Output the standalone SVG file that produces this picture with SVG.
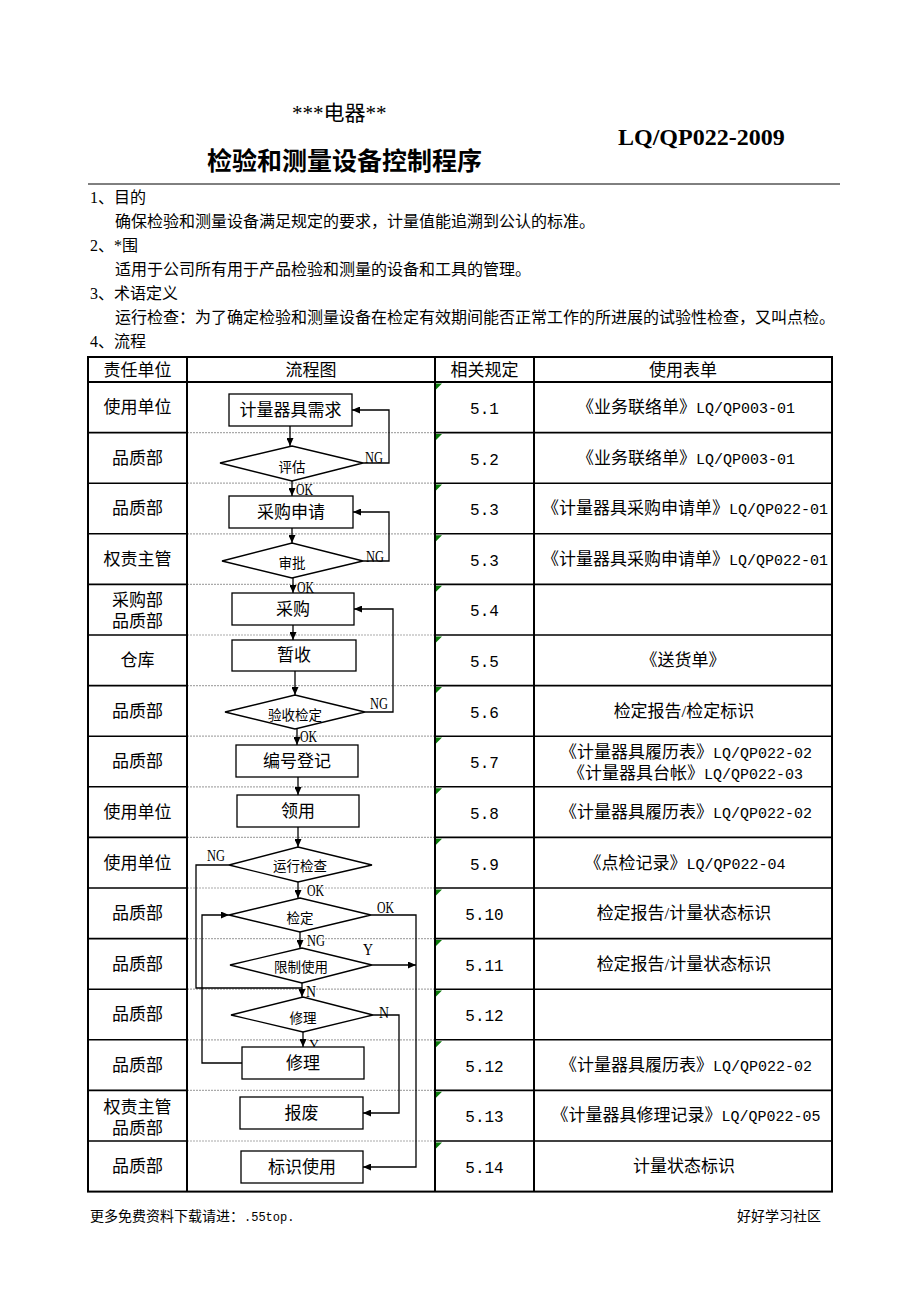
<svg xmlns="http://www.w3.org/2000/svg" width="920" height="1302" viewBox="0 0 920 1302">
<style>
.t{font-family:'Liberation Serif','Noto Sans CJK SC',serif;fill:#000}
.m{font-family:'Liberation Mono','Noto Sans CJK SC',monospace;font-size:15px}
.c{font-size:17px;text-anchor:middle}
.sec{font-size:16px}
.lbl{font-family:'Liberation Serif',serif;font-size:17px;fill:#000}
.dl{font-size:13.5px;text-anchor:middle}
.nd rect,.nd polygon{fill:#fff;stroke:#000;stroke-width:1.3}
.cn{fill:none;stroke:#000;stroke-width:1.3}
.bk{stroke:#000;stroke-width:1.6}
.gr{stroke:#aaa;stroke-width:1.2;stroke-dasharray:2 1}
.tri{fill:#0a7a0a}
</style>
<defs>
<marker id="ah" markerUnits="userSpaceOnUse" markerWidth="8" markerHeight="7" refX="8" refY="3.5" orient="auto">
<path d="M0,0 L8,3.5 L0,7 z" fill="#000"/>
</marker>
</defs>
<rect width="920" height="1302" fill="#fff"/>

<!-- header -->
<text class="t" x="292" y="120" font-size="21">***电器**</text>
<text class="t" x="207" y="170" font-size="25" font-weight="bold">检验和测量设备控制程序</text>
<text x="618" y="145" font-family="'Liberation Serif',serif" font-size="24" font-weight="bold">LQ/QP022-2009</text>
<line x1="88" y1="184" x2="840" y2="184" stroke="#000" stroke-width="1"/>

<text class="t sec" x="90" y="203">1、目的</text>
<text class="t sec" x="115" y="227">确保检验和测量设备满足规定的要求，计量值能追溯到公认的标准。</text>
<text class="t sec" x="90" y="251">2、*围</text>
<text class="t sec" x="115" y="275">适用于公司所有用于产品检验和测量的设备和工具的管理。</text>
<text class="t sec" x="90" y="299">3、术语定义</text>
<text class="t sec" x="115" y="323">运行检查：为了确定检验和测量设备在检定有效期间能否正常工作的所进展的试验性检查，又叫点检。</text>
<text class="t sec" x="90" y="347">4、流程</text>

<!-- table grid -->
<g id="table">
<g class="gr">
<line x1="187" y1="432.6" x2="435" y2="432.6"/><line x1="187" y1="483.2" x2="435" y2="483.2"/>
<line x1="187" y1="533.8" x2="435" y2="533.8"/><line x1="187" y1="584.4" x2="435" y2="584.4"/>
<line x1="187" y1="635" x2="435" y2="635"/><line x1="187" y1="685.6" x2="435" y2="685.6"/>
<line x1="187" y1="736.2" x2="435" y2="736.2"/><line x1="187" y1="786.8" x2="435" y2="786.8"/>
<line x1="187" y1="837.4" x2="435" y2="837.4"/><line x1="187" y1="888" x2="435" y2="888"/>
<line x1="187" y1="938.6" x2="435" y2="938.6"/><line x1="187" y1="989.2" x2="435" y2="989.2"/>
<line x1="187" y1="1039.8" x2="435" y2="1039.8"/><line x1="187" y1="1090.4" x2="435" y2="1090.4"/>
<line x1="187" y1="1141" x2="435" y2="1141"/>
</g>
<g class="bk">
<line x1="88" y1="432.6" x2="187" y2="432.6"/><line x1="435" y1="432.6" x2="832" y2="432.6"/>
<line x1="88" y1="483.2" x2="187" y2="483.2"/><line x1="435" y1="483.2" x2="832" y2="483.2"/>
<line x1="88" y1="533.8" x2="187" y2="533.8"/><line x1="435" y1="533.8" x2="832" y2="533.8"/>
<line x1="88" y1="584.4" x2="187" y2="584.4"/><line x1="435" y1="584.4" x2="832" y2="584.4"/>
<line x1="88" y1="635" x2="187" y2="635"/><line x1="435" y1="635" x2="832" y2="635"/>
<line x1="88" y1="685.6" x2="187" y2="685.6"/><line x1="435" y1="685.6" x2="832" y2="685.6"/>
<line x1="88" y1="736.2" x2="187" y2="736.2"/><line x1="435" y1="736.2" x2="832" y2="736.2"/>
<line x1="88" y1="786.8" x2="187" y2="786.8"/><line x1="435" y1="786.8" x2="832" y2="786.8"/>
<line x1="88" y1="837.4" x2="187" y2="837.4"/><line x1="435" y1="837.4" x2="832" y2="837.4"/>
<line x1="88" y1="888" x2="187" y2="888"/><line x1="435" y1="888" x2="832" y2="888"/>
<line x1="88" y1="938.6" x2="187" y2="938.6"/><line x1="435" y1="938.6" x2="832" y2="938.6"/>
<line x1="88" y1="989.2" x2="187" y2="989.2"/><line x1="435" y1="989.2" x2="832" y2="989.2"/>
<line x1="88" y1="1039.8" x2="187" y2="1039.8"/><line x1="435" y1="1039.8" x2="832" y2="1039.8"/>
<line x1="88" y1="1090.4" x2="187" y2="1090.4"/><line x1="435" y1="1090.4" x2="832" y2="1090.4"/>
<line x1="88" y1="1141" x2="187" y2="1141"/><line x1="435" y1="1141" x2="832" y2="1141"/>
</g>
<g stroke="#000" stroke-width="2" fill="none">
<rect x="88" y="357" width="744" height="834.6"/>
<line x1="88" y1="382" x2="832" y2="382"/>
<line x1="187" y1="357" x2="187" y2="1191.6"/>
<line x1="435" y1="357" x2="435" y2="1191.6"/>
<line x1="534" y1="357" x2="534" y2="1191.6"/>
</g>
<g class="tri">
<polygon points="436,383.5 442,383.5 436,389.5"/><polygon points="436,434 442,434 436,440"/>
<polygon points="436,484.6 442,484.6 436,490.6"/><polygon points="436,535.2 442,535.2 436,541.2"/>
<polygon points="436,585.8 442,585.8 436,591.8"/><polygon points="436,636.4 442,636.4 436,642.4"/>
<polygon points="436,687 442,687 436,693"/><polygon points="436,737.6 442,737.6 436,743.6"/>
<polygon points="436,788.2 442,788.2 436,794.2"/><polygon points="436,838.8 442,838.8 436,844.8"/>
<polygon points="436,889.4 442,889.4 436,895.4"/><polygon points="436,940 442,940 436,946"/>
<polygon points="436,990.6 442,990.6 436,996.6"/><polygon points="436,1041.2 442,1041.2 436,1047.2"/>
<polygon points="436,1091.8 442,1091.8 436,1097.8"/><polygon points="436,1142.4 442,1142.4 436,1148.4"/>
</g>
</g>

<!-- headers -->
<g id="headers" class="t c">
<text x="137.5" y="376">责任单位</text>
<text x="311" y="376">流程图</text>
<text x="484.5" y="376">相关规定</text>
<text x="683" y="376">使用表单</text>
</g>

<!-- responsibility column -->
<g id="col-resp" class="t c">
<text x="137.5" y="413">使用单位</text>
<text x="137.5" y="464">品质部</text>
<text x="137.5" y="514">品质部</text>
<text x="137.5" y="565">权责主管</text>
<text x="137.5" y="606">采购部</text>
<text x="137.5" y="627">品质部</text>
<text x="137.5" y="666">仓库</text>
<text x="137.5" y="717">品质部</text>
<text x="137.5" y="767">品质部</text>
<text x="137.5" y="818">使用单位</text>
<text x="137.5" y="869">使用单位</text>
<text x="137.5" y="919">品质部</text>
<text x="137.5" y="970">品质部</text>
<text x="137.5" y="1020">品质部</text>
<text x="137.5" y="1071">品质部</text>
<text x="137.5" y="1113">权责主管</text>
<text x="137.5" y="1134">品质部</text>
<text x="137.5" y="1172">品质部</text>
</g>

<!-- regulation column -->
<g id="col-reg" class="m" text-anchor="middle" font-size="16">
<text x="484.5" y="414" style="font-size:16px">5.1</text>
<text x="484.5" y="465" style="font-size:16px">5.2</text>
<text x="484.5" y="515" style="font-size:16px">5.3</text>
<text x="484.5" y="566" style="font-size:16px">5.3</text>
<text x="484.5" y="616" style="font-size:16px">5.4</text>
<text x="484.5" y="667" style="font-size:16px">5.5</text>
<text x="484.5" y="718" style="font-size:16px">5.6</text>
<text x="484.5" y="768" style="font-size:16px">5.7</text>
<text x="484.5" y="819" style="font-size:16px">5.8</text>
<text x="484.5" y="870" style="font-size:16px">5.9</text>
<text x="484.5" y="920" style="font-size:16px">5.10</text>
<text x="484.5" y="971" style="font-size:16px">5.11</text>
<text x="484.5" y="1021" style="font-size:16px">5.12</text>
<text x="484.5" y="1072" style="font-size:16px">5.12</text>
<text x="484.5" y="1122" style="font-size:16px">5.13</text>
<text x="484.5" y="1173" style="font-size:16px">5.14</text>
</g>

<!-- forms column -->
<g id="col-forms" class="t c">
<text x="686" y="413">《业务联络单》<tspan class="m">LQ/QP003-01</tspan></text>
<text x="686" y="464">《业务联络单》<tspan class="m">LQ/QP003-01</tspan></text>
<text x="685" y="514">《计量器具采购申请单》<tspan class="m">LQ/QP022-01</tspan></text>
<text x="685" y="565">《计量器具采购申请单》<tspan class="m">LQ/QP022-01</tspan></text>
<text x="683" y="666">《送货单》</text>
<text x="684" y="717">检定报告/检定标识</text>
<text x="686" y="758">《计量器具履历表》<tspan class="m">LQ/QP022-02</tspan></text>
<text x="685.5" y="779">《计量器具台帐》<tspan class="m">LQ/QP022-03</tspan></text>
<text x="686" y="818">《计量器具履历表》<tspan class="m">LQ/QP022-02</tspan></text>
<text x="685" y="869">《点检记录》<tspan class="m">LQ/QP022-04</tspan></text>
<text x="684" y="919">检定报告/计量状态标识</text>
<text x="684" y="970">检定报告/计量状态标识</text>
<text x="686" y="1071">《计量器具履历表》<tspan class="m">LQ/QP022-02</tspan></text>
<text x="686" y="1121">《计量器具修理记录》<tspan class="m">LQ/QP022-05</tspan></text>
<text x="684" y="1172">计量状态标识</text>
</g>

<!-- connectors -->
<g id="connectors" class="cn">
<path d="M290,426 V446" marker-end="url(#ah)"/>
<path d="M363,463 H389 V410 H352" marker-end="url(#ah)"/>
<path d="M292,481 V496" marker-end="url(#ah)"/>
<path d="M292,528 V543" marker-end="url(#ah)"/>
<path d="M363,561 H389 V512 H353" marker-end="url(#ah)"/>
<path d="M293,578 V593" marker-end="url(#ah)"/>
<path d="M293,625 V640" marker-end="url(#ah)"/>
<path d="M295,671 V695" marker-end="url(#ah)"/>
<path d="M365,712 H393 V609 H354" marker-end="url(#ah)"/>
<path d="M297,729 V745" marker-end="url(#ah)"/>
<path d="M298,777 V795" marker-end="url(#ah)"/>
<path d="M298,827 V847" marker-end="url(#ah)"/>
<path d="M298,882 V898" marker-end="url(#ah)"/>
<path d="M229,865 H196 V988 H302"/>
<path d="M371,915 H416 V1167 H363" marker-end="url(#ah)"/>
<path d="M242,1063 H202 V915 H229" marker-end="url(#ah)"/>
<path d="M300,932 V948" marker-end="url(#ah)"/>
<path d="M372,965 H416" marker-end="url(#ah)"/>
<path d="M302,983 V997" marker-end="url(#ah)"/>
<path d="M373,1015 H399 V1113 H363" marker-end="url(#ah)"/>
<path d="M303,1032 V1047" marker-end="url(#ah)"/>
</g>

<!-- connector labels -->
<g id="labels" class="lbl">
<text x="365" y="463" textLength="18" lengthAdjust="spacingAndGlyphs">NG</text>
<text x="296" y="495" textLength="17" lengthAdjust="spacingAndGlyphs">OK</text>
<text x="366" y="562" textLength="18" lengthAdjust="spacingAndGlyphs">NG</text>
<text x="297" y="593" textLength="17" lengthAdjust="spacingAndGlyphs">OK</text>
<text x="370" y="709" textLength="18" lengthAdjust="spacingAndGlyphs">NG</text>
<text x="300" y="742" textLength="17" lengthAdjust="spacingAndGlyphs">OK</text>
<text x="207" y="861" textLength="18" lengthAdjust="spacingAndGlyphs">NG</text>
<text x="307" y="896" textLength="17" lengthAdjust="spacingAndGlyphs">OK</text>
<text x="377" y="913" textLength="17" lengthAdjust="spacingAndGlyphs">OK</text>
<text x="307" y="946" textLength="18" lengthAdjust="spacingAndGlyphs">NG</text>
<text x="363" y="955" textLength="10" lengthAdjust="spacingAndGlyphs">Y</text>
<text x="306" y="997" textLength="10" lengthAdjust="spacingAndGlyphs">N</text>
<text x="379" y="1018" textLength="10" lengthAdjust="spacingAndGlyphs">N</text>
<text x="309" y="1050" font-size="14">Y</text>
</g>

<!-- nodes -->
<g id="n-demand" class="nd"><rect x="229" y="394" width="123" height="32"/><text class="t c" x="290.5" y="416">计量器具需求</text></g>
<g id="n-evaluate" class="nd"><polygon points="220,463 292,446 363,463 292,481"/><text class="t dl" x="292" y="472">评估</text></g>
<g id="n-request" class="nd"><rect x="229" y="496" width="124" height="32"/><text class="t c" x="291" y="518">采购申请</text></g>
<g id="n-approve" class="nd"><polygon points="222,561 292,543 363,561 292,578"/><text class="t dl" x="292" y="568">审批</text></g>
<g id="n-purchase" class="nd"><rect x="232" y="593" width="122" height="32"/><text class="t c" x="293" y="615">采购</text></g>
<g id="n-receive" class="nd"><rect x="232" y="640" width="124" height="31"/><text class="t c" x="294" y="661">暂收</text></g>
<g id="n-inspect" class="nd"><polygon points="225,712 295,695 365,712 295,729"/><text class="t dl" x="295" y="720">验收检定</text></g>
<g id="n-register" class="nd"><rect x="236" y="745" width="122" height="32"/><text class="t c" x="297" y="767">编号登记</text></g>
<g id="n-issue" class="nd"><rect x="237" y="795" width="122" height="32"/><text class="t c" x="298" y="817">领用</text></g>
<g id="n-runcheck" class="nd"><polygon points="229,865 298,847 372,865 298,882"/><text class="t dl" x="300" y="871">运行检查</text></g>
<g id="n-verify" class="nd"><polygon points="229,915 300,898 371,915 300,932"/><text class="t dl" x="300" y="923">检定</text></g>
<g id="n-limit" class="nd"><polygon points="230,965 302,948 372,965 302,983"/><text class="t dl" x="301" y="972">限制使用</text></g>
<g id="n-repairq" class="nd"><polygon points="231,1015 303,997 373,1015 303,1032"/><text class="t dl" x="303" y="1023">修理</text></g>
<g id="n-repair" class="nd"><rect x="242" y="1047" width="122" height="32"/><text class="t c" x="303" y="1069">修理</text></g>
<g id="n-scrap" class="nd"><rect x="240" y="1097" width="123" height="32"/><text class="t c" x="301.5" y="1119">报废</text></g>
<g id="n-label" class="nd"><rect x="241" y="1151" width="122" height="32"/><text class="t c" x="302" y="1173">标识使用</text></g>

<!-- footer -->
<text class="t" x="90" y="1221" font-size="14">更多免费资料下载请进：<tspan font-family="'Liberation Mono',monospace" font-size="12">.55top.</tspan></text>
<text class="t" x="737" y="1221" font-size="14">好好学习社区</text>
</svg>
